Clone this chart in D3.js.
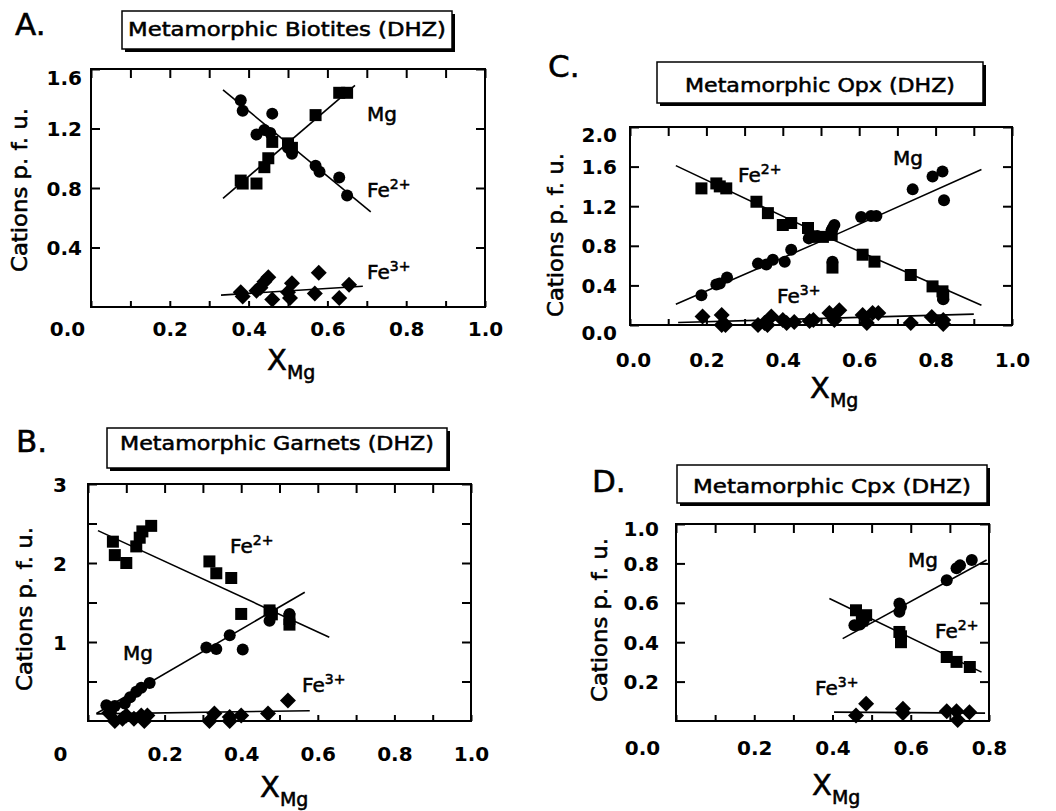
<!DOCTYPE html>
<html>
<head>
<meta charset="utf-8">
<script src="https://cdn.jsdelivr.net/npm/d3@7"></script>
<style>
    body { margin: 0; background: #fff; }
    svg text { font-family: "DejaVu Sans", "Liberation Sans", Arial, sans-serif; fill: #000; }
    svg text.heavy { stroke: #000; stroke-width: 0.55; }
</style>
</head>
<body>
<svg id="chart" width="1056" height="811"></svg>
<script>
// values: [XMg, cations p.f.u.]

// A. biotites
var bioMg = [[0.38,0.85],[0.385,0.83],[0.42,0.83],[0.44,0.94],[0.45,1.00],[0.46,1.11],[0.50,1.10],[0.51,1.07],[0.57,1.29],[0.63,1.44],[0.65,1.44]];
var bioFe2 = [[0.38,1.39],[0.385,1.32],[0.46,1.30],[0.42,1.16],[0.44,1.19],[0.455,1.17],[0.50,1.07],[0.51,1.03],[0.57,0.95],[0.58,0.91],[0.63,0.87],[0.65,0.75]];
var bioFe3 = [[0.38,0.10],[0.385,0.07],[0.42,0.11],[0.43,0.13],[0.44,0.17],[0.45,0.20],[0.46,0.05],[0.505,0.06],[0.51,0.16],[0.50,0.10],[0.578,0.23],[0.568,0.09],[0.63,0.06],[0.655,0.15]];
var bioLineMg = [[0.335,0.73],[0.67,1.49]];
var bioLineFe2 = [[0.335,1.46],[0.71,0.64]];
var bioLineFe3 = [[0.33,0.08],[0.69,0.14]];

// B. garnets
var garMg = [[0.048,0.20],[0.06,0.13],[0.07,0.19],[0.096,0.22],[0.11,0.30],[0.126,0.37],[0.139,0.42],[0.161,0.48],[0.309,0.93],[0.335,0.91],[0.37,1.085],[0.404,0.905],[0.474,1.27],[0.48,1.38],[0.526,1.355]];
var garFe2 = [[0.065,2.27],[0.07,2.10],[0.10,2.0],[0.126,2.21],[0.135,2.32],[0.142,2.40],[0.165,2.47],[0.317,2.02],[0.335,1.87],[0.374,1.81],[0.40,1.355],[0.474,1.40],[0.48,1.35],[0.526,1.29],[0.526,1.22]];
var garFe3 = [[0.055,0.10],[0.07,0.0],[0.09,0.03],[0.10,0.07],[0.12,0.03],[0.139,0.07],[0.147,0.0],[0.155,0.07],[0.317,0.0],[0.33,0.095],[0.37,0.05],[0.37,0.0],[0.40,0.07],[0.47,0.095],[0.522,0.26]];
var garLineMg = [[0.022,0.095],[0.566,1.63]];
var garLineFe2 = [[0.026,2.41],[0.63,1.06]];
var garLineFe3 = [[0.022,0.09],[0.579,0.13]];

// C. opx
var opxMg = [[0.187,0.30],[0.226,0.41],[0.235,0.42],[0.254,0.48],[0.335,0.62],[0.357,0.61],[0.374,0.66],[0.405,0.64],[0.422,0.76],[0.468,0.875],[0.49,0.90],[0.528,0.96],[0.531,0.98],[0.535,1.01],[0.53,0.64],[0.605,1.09],[0.631,1.10],[0.645,1.10],[0.74,1.37],[0.792,1.50],[0.818,1.55],[0.822,1.26],[0.82,0.26]];
var opxFe2 = [[0.187,1.38],[0.226,1.43],[0.235,1.40],[0.252,1.38],[0.331,1.245],[0.361,1.13],[0.40,1.01],[0.422,1.03],[0.466,0.98],[0.479,0.89],[0.505,0.89],[0.528,0.91],[0.53,0.58],[0.609,0.71],[0.64,0.64],[0.735,0.505],[0.792,0.39],[0.818,0.34],[0.82,0.30]];
var opxFe3 = [[0.19,0.085],[0.24,0.10],[0.24,0.0],[0.25,0.0],[0.335,0.0],[0.352,0.02],[0.37,0.085],[0.36,0.0],[0.40,0.05],[0.41,0.02],[0.43,0.03],[0.47,0.04],[0.48,0.05],[0.522,0.12],[0.548,0.15],[0.535,0.05],[0.609,0.10],[0.635,0.12],[0.65,0.12],[0.62,0.02],[0.735,0.02],[0.79,0.08],[0.82,0.05],[0.82,0.01]];
var opxLineMg = [[0.12,0.21],[0.52,0.88],[0.92,1.57]];
var opxLineFe2 = [[0.12,1.61],[0.52,0.88],[0.92,0.20]];
var opxLineFe3 = [[0.126,0.025],[0.90,0.11]];

// D. cpx
var cpxMg = [[0.456,0.486],[0.47,0.49],[0.48,0.51],[0.571,0.596],[0.571,0.555],[0.575,0.58],[0.692,0.715],[0.717,0.775],[0.726,0.79],[0.756,0.817]];
var cpxFe2 = [[0.46,0.562],[0.486,0.537],[0.475,0.51],[0.571,0.452],[0.575,0.40],[0.575,0.43],[0.692,0.325],[0.717,0.30],[0.751,0.274]];
var cpxFe3 = [[0.46,0.028],[0.486,0.088],[0.58,0.062],[0.58,0.04],[0.692,0.05],[0.717,0.05],[0.72,0.005],[0.75,0.045]];
var cpxLineMg = [[0.426,0.418],[0.794,0.817]];
var cpxLineFe2 = [[0.392,0.622],[0.781,0.248]];
var cpxLineFe3 = [[0.404,0.045],[0.79,0.04]];

// tick labels
var xLabels10 = [0, 0.2, 0.4, 0.6, 0.8, 1.0];
var xLabels08 = [0, 0.2, 0.4, 0.6, 0.8];
var bioYTicks = [0.4, 0.8, 1.2, 1.6];
var garYTicks = [0.5, 1, 1.5, 2, 2.5, 3];
var garYLabels = [1, 2, 3];
var opxYTicks = [0, 0.4, 0.8, 1.2, 1.6, 2.0];
var cpxYTicks = [0.2, 0.4, 0.6, 0.8, 1.0];

var svg = d3.select("#chart"),
    f1 = d3.format(".1f");

var panels = [
    { letter: "A.", lx: 15, ly: 35, title: "Metamorphic Biotites  (DHZ)", box: [122, 11, 330, 38], titleY: 36, titleLen: 318,
      left: 91, right: 485, top: 69, bottom: 307, xDomain: [0, 1], yDomain: [0, 1.6],
      yTicks: bioYTicks, yLabels: bioYTicks, yFmt: f1, yPad: 9, yShift: { "1.6": 8 },
      xLabels: xLabels10, xFmt: f1, xPad: 15, zeroShift: -24,
      yTitle: [27, 190], xTitle: [267, 370],
      series: [[bioFe3, "diamond"], [bioMg, "square"], [bioFe2, "circle"]],
      lines: [bioLineMg, bioLineFe2, bioLineFe3],
      labels: [["Mg", "", 367, 121], ["Fe", "2+", 367, 197], ["Fe", "3+", 367, 279]] },
    { letter: "B.", lx: 16, ly: 452, title: "Metamorphic Garnets  (DHZ)", box: [107, 428, 340, 40], titleY: 450, titleLen: 314,
      left: 88, right: 471, top: 484, bottom: 721, xDomain: [0, 1], yDomain: [0, 3],
      yTicks: garYTicks, yLabels: garYLabels, yFmt: d3.format("d"), yPad: 21, yShift: {},
      xLabels: xLabels10, xFmt: function (d) { return d === 0 ? "0" : f1(d); }, xPad: 26, zeroShift: -28,
      yTitle: [32, 609], xTitle: [260, 797],
      series: [[garFe3, "diamond"], [garFe2, "square"], [garMg, "circle"]],
      lines: [garLineMg, garLineFe2, garLineFe3],
      labels: [["Fe", "2+", 230, 553], ["Mg", "", 123, 660], ["Fe", "3+", 302, 692]] },
    { letter: "C.", lx: 548, ly: 77, title: "Metamorphic Opx  (DHZ)", box: [657, 62, 326, 41], titleY: 92, titleLen: 270,
      left: 630, right: 1012, top: 127, bottom: 325, xDomain: [0, 1], yDomain: [0, 2],
      yTicks: opxYTicks, yLabels: opxYTicks, yFmt: f1, yPad: 13, yShift: { "2.0": 7, "0.0": 7 },
      xLabels: xLabels10, xFmt: f1, xPad: 28, zeroShift: 3,
      yTitle: [563, 235], xTitle: [810, 398],
      series: [[opxFe3, "diamond"], [opxFe2, "square"], [opxMg, "circle"]],
      lines: [opxLineMg, opxLineFe2, opxLineFe3],
      labels: [["Fe", "2+", 738, 182], ["Mg", "", 893, 165], ["Fe", "3+", 777, 303]] },
    { letter: "D.", lx: 592, ly: 492, title: "Metamorphic Cpx  (DHZ)", box: [677, 465, 310, 38], titleY: 493, titleLen: 278,
      left: 676, right: 989, top: 524, bottom: 721, xDomain: [0, 0.8], yDomain: [0, 1],
      yTicks: cpxYTicks, yLabels: cpxYTicks, yFmt: f1, yPad: 17, yShift: { "1.0": 4 },
      xLabels: xLabels08, xFmt: f1, xPad: 20, zeroShift: -34,
      yTitle: [607, 620], xTitle: [812, 795],
      series: [[cpxFe3, "diamond"], [cpxFe2, "square"], [cpxMg, "circle"]],
      lines: [cpxLineMg, cpxLineFe2, cpxLineFe3],
      labels: [["Mg", "", 908, 567], ["Fe", "2+", 935, 638], ["Fe", "3+", 815, 695]] }
];

var shapes = {
    diamond: "M0,-8L8,0L0,8L-8,0Z",
    square: "M-6,-6H6V6H-6Z",
    circle: "M6,0A6,6 0 1,1 -6,0A6,6 0 1,1 6,0Z"
};

function styleAxis(g) {
    g.attr("font-size", null).attr("font-family", null);
    g.select(".domain").remove();
    g.selectAll("line").attr("stroke-width", 2);
    g.selectAll("text").attr("font-size", 20).attr("font-weight", "bold");
}

function drawPanel(p) {
    var x = d3.scaleLinear().domain(p.xDomain).range([p.left, p.right]),
        y = d3.scaleLinear().domain(p.yDomain).range([p.bottom, p.top]),
        g = svg.append("g"),
        minor = x.ticks(Math.round((p.xDomain[1] - p.xDomain[0]) * 10));

    // panel letter
    g.append("text").attr("class", "heavy").attr("x", p.lx).attr("y", p.ly).attr("font-size", 31).text(p.letter);

    // title box with its drop shadow
    g.append("rect").attr("x", p.box[0] + 3).attr("y", p.box[1] + 3)
        .attr("width", p.box[2]).attr("height", p.box[3]).attr("fill", "#000");
    g.append("rect").attr("x", p.box[0]).attr("y", p.box[1])
        .attr("width", p.box[2]).attr("height", p.box[3])
        .attr("fill", "#fff").attr("stroke", "#000").attr("stroke-width", 1.5);
    g.append("text").attr("class", "heavy")
        .attr("x", p.box[0] + p.box[2] / 2).attr("y", p.titleY)
        .attr("text-anchor", "middle").attr("font-size", 20)
        .attr("textLength", p.titleLen).attr("lengthAdjust", "spacingAndGlyphs")
        .text(p.title);

    // inward ticks on all four sides
    g.append("g").attr("transform", "translate(0," + p.top + ")")
        .call(d3.axisTop(x).tickValues(minor).tickSize(-9).tickFormat(""))
        .call(styleAxis);
    g.append("g").attr("transform", "translate(0," + p.bottom + ")")
        .call(d3.axisBottom(x).tickValues(minor).tickSize(-6).tickFormat(""))
        .call(styleAxis);
    g.append("g").attr("transform", "translate(" + p.right + ",0)")
        .call(d3.axisRight(y).tickValues(p.yTicks).tickSize(-9).tickFormat(""))
        .call(styleAxis);
    g.append("g").attr("transform", "translate(" + p.left + ",0)")
        .call(d3.axisLeft(y).tickValues(p.yTicks).tickSize(-9).tickFormat(""))
        .call(styleAxis);

    // tick labels
    g.append("g").attr("transform", "translate(" + p.left + ",0)")
        .call(d3.axisLeft(y).tickValues(p.yLabels).tickSize(0).tickPadding(p.yPad).tickFormat(p.yFmt))
        .call(styleAxis)
        .selectAll("text").attr("dy", function (d) {
            return ((p.yShift[f1(d)] || 0) + 7) + "px";
        });
    g.append("g").attr("transform", "translate(0," + p.bottom + ")")
        .call(d3.axisBottom(x).tickValues(p.xLabels).tickSize(0).tickPadding(p.xPad).tickFormat(p.xFmt))
        .call(styleAxis)
        .selectAll("text").attr("x", function (d) { return d === 0 ? p.zeroShift : 0; });

    // frame
    g.append("rect").attr("x", p.left).attr("y", p.top)
        .attr("width", p.right - p.left).attr("height", p.bottom - p.top)
        .attr("fill", "none").attr("stroke", "#000").attr("stroke-width", 2);

    // axis titles
    g.append("text").attr("class", "heavy")
        .attr("transform", "translate(" + p.yTitle[0] + "," + p.yTitle[1] + ") rotate(-90)")
        .attr("text-anchor", "middle").attr("font-size", 21)
        .attr("textLength", 164).attr("lengthAdjust", "spacingAndGlyphs")
        .text("Cations p. f. u.");
    var xt = g.append("text").attr("class", "heavy").attr("x", p.xTitle[0]).attr("y", p.xTitle[1]).attr("font-size", 29);
    xt.append("tspan").text("X");
    xt.append("tspan").attr("font-size", 19).attr("dy", 9).text("Mg");

    // fit lines
    var line = d3.line().x(function (d) { return x(d[0]); }).y(function (d) { return y(d[1]); });
    g.selectAll("path.fit").data(p.lines).enter().append("path")
        .attr("class", "fit").attr("d", line)
        .attr("fill", "none").attr("stroke", "#000").attr("stroke-width", 1.6);

    // markers
    p.series.forEach(function (s) {
        g.append("g").selectAll("path").data(s[0]).enter().append("path")
            .attr("transform", function (d) { return "translate(" + x(d[0]) + "," + y(d[1]) + ")"; })
            .attr("d", shapes[s[1]]).attr("fill", "#000");
    });

    // series labels
    p.labels.forEach(function (l) {
        var t = g.append("text").attr("class", "heavy").attr("x", l[2]).attr("y", l[3]).attr("font-size", 20);
        t.append("tspan").text(l[0]);
        if (l[1]) t.append("tspan").attr("font-size", 14).attr("dy", -8).text(l[1]);
    });
}

panels.forEach(drawPanel);
</script>
</body>
</html>
